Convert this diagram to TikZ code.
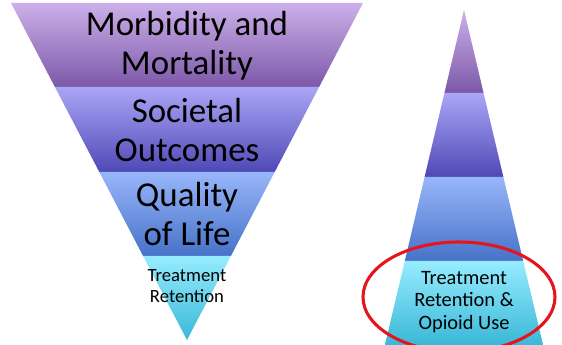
\documentclass[tikz,border=0pt]{standalone}
\usepackage{fontspec}
\setmainfont{Carlito}
\definecolor{morbTop}{RGB}{204,176,234}
\definecolor{morbBot}{RGB}{124,88,168}
\definecolor{socTop}{RGB}{170,166,246}
\definecolor{socBot}{RGB}{80,72,182}
\definecolor{qolTop}{RGB}{152,182,250}
\definecolor{qolBot}{RGB}{70,114,200}
\definecolor{retTop}{RGB}{150,236,255}
\definecolor{retBot}{RGB}{58,184,216}
\definecolor{ringRed}{RGB}{230,20,28}
\tikzset{
  morb/.style={top color=morbTop, bottom color=morbBot},
  soc/.style={top color=socTop, bottom color=socBot},
  qol/.style={top color=qolTop, bottom color=qolBot},
  ret/.style={top color=retTop, bottom color=retBot},
  bigtext/.style={inner sep=0pt, align=center, font=\fontsize{26.2}{29}\selectfont},
  smalltext/.style={inner sep=0pt, align=center, font=\fontsize{14}{16}\selectfont},
}

\begin{document}
\begin{tikzpicture}[x=0.75pt,y=0.75pt,yscale=-1,xscale=1]
\useasboundingbox (0,0) rectangle (562,345);

%Shape: Inverted pyramid, band 1
\shade [morb] (11,3) -- (363,3) -- (319.1,87) -- (54.9,87) -- cycle ;
%Shape: Inverted pyramid, band 2
\shade [soc] (54.9,87) -- (319.1,87) -- (274.7,172) -- (99.3,172) -- cycle ;
%Shape: Inverted pyramid, band 3
\shade [qol] (99.3,172) -- (274.7,172) -- (230.9,256) -- (143.1,256) -- cycle ;
%Shape: Inverted pyramid, band 4
\shade [ret] (143.1,256) -- (230.9,256) -- (187,340) -- cycle ;

%Shape: Pyramid, band 1
\shade [morb] (464,10) -- (483.6,93) -- (444.4,93) -- cycle ;
%Shape: Pyramid, band 2
\shade [soc] (444.4,93) -- (483.6,93) -- (503.4,177) -- (424.6,177) -- cycle ;
%Shape: Pyramid, band 3
\shade [qol] (424.6,177) -- (503.4,177) -- (523.2,261) -- (404.8,261) -- cycle ;
%Shape: Pyramid, band 4
\shade [ret] (404.8,261) -- (523.2,261) -- (543.1,345) -- (384.9,345) -- cycle ;

%Shape: Ellipse
\draw [ringRed, line width=2.3pt] (459,297) ellipse (96 and 55) ;

% Text Node
\node [bigtext] (morbidity) at (187,46) {Morbidity and\\Mortality};
% Text Node
\node [bigtext] (societal) at (187,130) {Societal\\Outcomes};
% Text Node
\node [bigtext] (quality) at (187,214) {Quality\\of Life};
% Text Node
\node [smalltext] (retention) at (187,286) {Treatment\\Retention};
% Text Node
\node [smalltext, font=\fontsize{15.3}{16.8}\selectfont] (opioid) at (464,302) {Treatment\\Retention \&\\Opioid Use};

\end{tikzpicture}
\end{document}
